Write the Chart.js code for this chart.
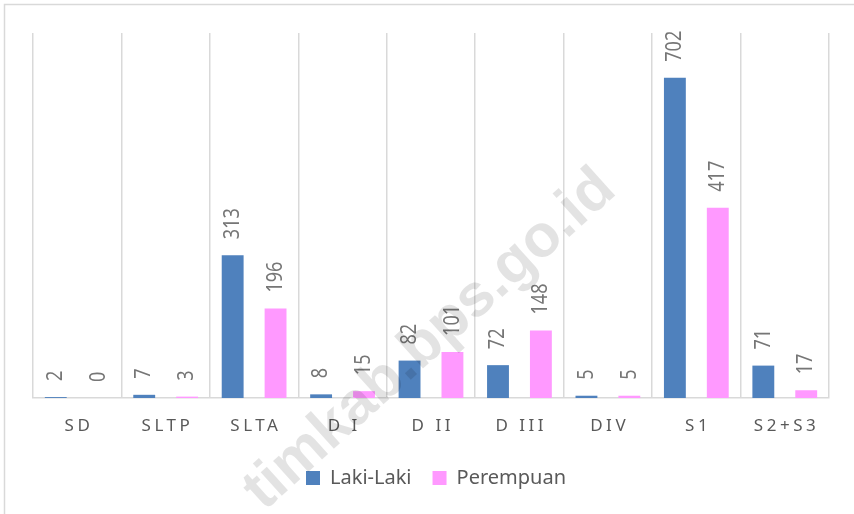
<!DOCTYPE html>
<html>
<head>
<meta charset="utf-8">
<script src="https://cdn.jsdelivr.net/npm/chart.js@4.4.0/dist/chart.umd.min.js"></script>
<style>
  html, body { margin: 0; padding: 0; background: #fff; }
  #wrap { width: 854px; height: 514px; }
</style>
</head>
<body>
<div id="wrap"><canvas id="eduChart" width="854" height="514"></canvas></div>
<script>
const categories = ["SD", "SLTP", "SLTA", "D I", "D II", "D III", "DIV", "S1", "S2+S3"];
const lakiLaki = [2, 7, 313, 8, 82, 72, 5, 702, 71];
const perempuan = [0, 3, 196, 15, 101, 148, 5, 417, 17];
const seriesNames = ["Laki-Laki", "Perempuan"];

const textGray = "#595959";
const lineGray = "#d9d9d9";

// frame, spaced category labels, rotated value labels and the watermark
const extras = {
    id: "extras",
    afterLayout(chart) {
        // nudge legend a bit to the right, like the original
        chart.legend.left += 5;
        chart.legend.right += 5;
    },
    beforeDraw(chart) {
        const ctx = chart.ctx;
        ctx.save();
        ctx.strokeStyle = lineGray;
        ctx.lineWidth = 1.5;
        ctx.beginPath();
        ctx.moveTo(4.5, 514);
        ctx.lineTo(4.5, 4.5);
        ctx.lineTo(854, 4.5);
        ctx.stroke();
        ctx.restore();
    },
    afterDraw(chart) {
        const ctx = chart.ctx;
        const xs = chart.scales.x;

        ctx.save();
        ctx.font = "17px 'Noto Sans'";
        ctx.fillStyle = textGray;
        ctx.textAlign = "center";
        ctx.textBaseline = "middle";
        ctx.letterSpacing = "3.5px";
        categories.forEach((c, i) => {
            ctx.fillText(c, xs.getPixelForValue(i) + 1.75, 426);
        });
        ctx.restore();

        ctx.save();
        ctx.font = "22px 'Noto Sans'";
        ctx.fillStyle = "#767676";
        ctx.textAlign = "left";
        ctx.textBaseline = "middle";
        chart.data.datasets.forEach((ds, di) => {
            chart.getDatasetMeta(di).data.forEach((bar, i) => {
                ctx.save();
                ctx.translate(bar.x, bar.y - 16);
                ctx.rotate(-Math.PI / 2);
                ctx.scale(0.82, 1);
                ctx.fillText(String(ds.data[i]), 0, 0);
                ctx.restore();
            });
        });
        ctx.restore();

        ctx.save();
        ctx.translate(430, 340);
        ctx.rotate(-42 * Math.PI / 180);
        ctx.font = "bold 60px 'Liberation Sans'";
        ctx.fillStyle = "rgba(0,0,0,0.11)";
        ctx.textAlign = "center";
        ctx.textBaseline = "middle";
        ctx.fillText("timkab.bps.go.id", 0, 0);
        ctx.restore();
    }
};

const ctx = document.getElementById("eduChart").getContext("2d");
Chart.defaults.font.family = "'Noto Sans', sans-serif";
Chart.defaults.color = textGray;

new Chart(ctx, {
    type: "bar",
    data: {
        labels: categories,
        datasets: [{
            label: seriesNames[0],
            data: lakiLaki,
            backgroundColor: "#4F81BD",
            categoryPercentage: 0.97,
            barPercentage: 0.51
        }, {
            label: seriesNames[1],
            data: perempuan,
            backgroundColor: "#FF99FF",
            categoryPercentage: 0.97,
            barPercentage: 0.51
        }]
    },
    options: {
        responsive: false,
        animation: false,
        devicePixelRatio: 1,
        layout: {
            padding: { left: 33, right: 25, top: 33, bottom: 16 }
        },
        scales: {
            x: {
                grid: {
                    color: lineGray,
                    lineWidth: 1.5,
                    drawTicks: false
                },
                border: { color: lineGray, width: 1.5 },
                ticks: { display: false },
                afterFit: (s) => { s.height = 49; }
            },
            y: {
                display: false,
                min: 0,
                max: 800
            }
        },
        plugins: {
            legend: {
                position: "bottom",
                labels: {
                    boxWidth: 14,
                    boxHeight: 14,
                    padding: 21,
                    color: textGray,
                    font: { size: 20 }
                }
            },
            tooltip: { enabled: false }
        }
    },
    plugins: [extras]
});
</script>
</body>
</html>
